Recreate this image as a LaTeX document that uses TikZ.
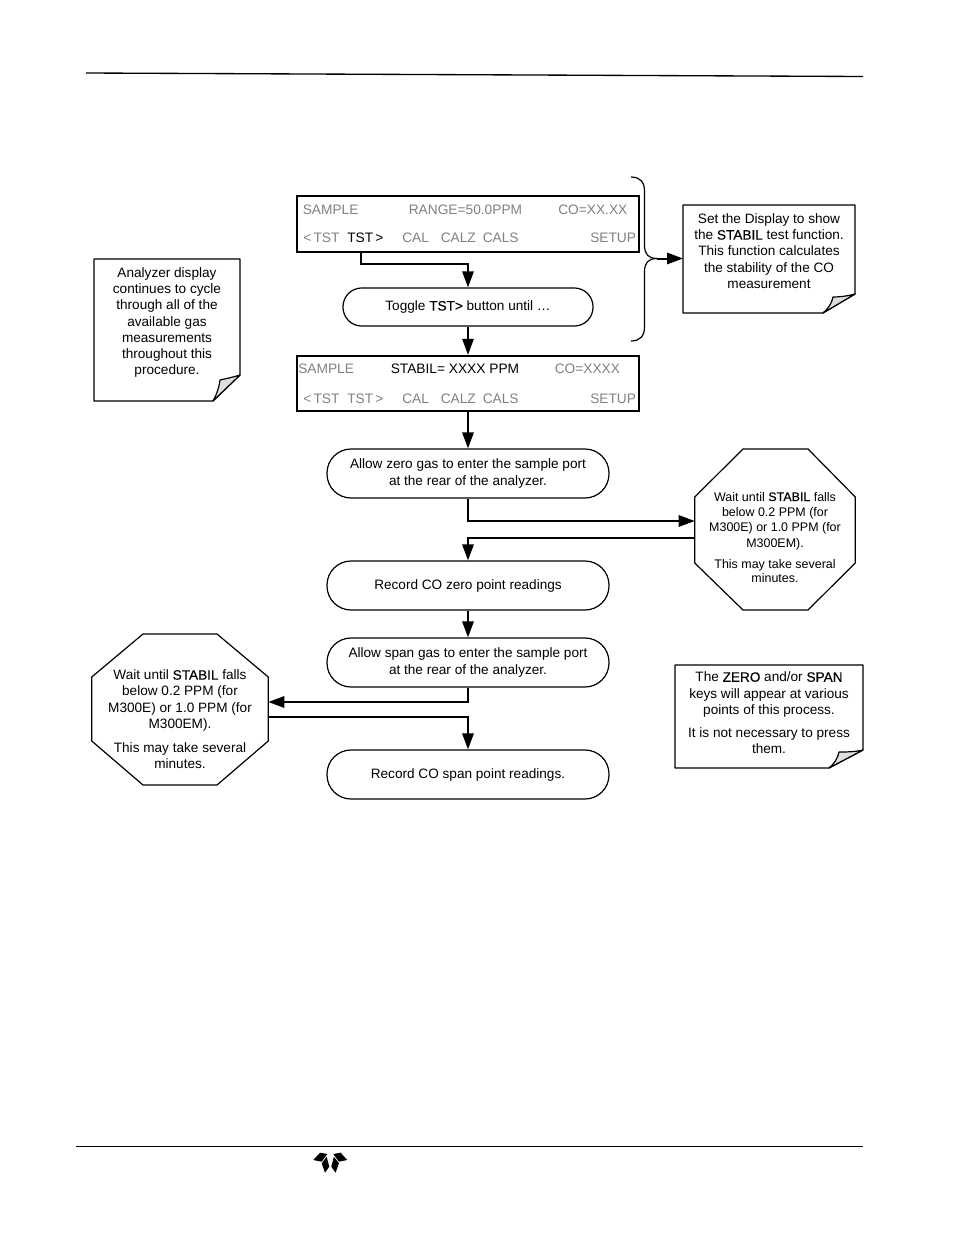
\documentclass[tikz,border=0pt]{standalone}
\usepackage{fontspec}
\setmainfont{Liberation Sans}
\newfontface\dk{Liberation Sans}[FakeBold=0.25]
\usetikzlibrary{arrows.meta,calc}
\definecolor{lcd}{gray}{0.5}
\definecolor{fold}{gray}{0.87}
\newcommand{\txt}{\fontsize{10.2pt}{12.2pt}\selectfont}
\newcommand{\hi}[1]{{\dk #1}}
\tikzset{
 x=0.75pt,y=-0.75pt,
 conn/.style={line width=1.5pt,-{Triangle[length=12pt,width=8.5pt]}},
 lcdbox/.style={draw,line width=1.5pt,minimum width=256.5pt,minimum height=41.5pt,inner sep=0pt},
 lcdt/.style={anchor=base west,inner sep=0pt,text=lcd,font=\fontsize{10.3pt}{12pt}\selectfont},
 pill/.style={draw,line width=0.9pt,rounded corners=18pt,minimum height=36.75pt,minimum width=211.5pt,inner sep=0pt,align=center,font=\txt},
 notet/.style={inner sep=0pt,align=center,font=\txt},
 notebox/.style={draw,line width=0.9pt,fill=white,line join=round},
 foldst/.style={draw,line width=0.9pt,fill=fold,line join=round},
 octt/.style={inner sep=0pt,align=center,font=\txt},
 petal/.style={fill=black,draw=none}
}
\begin{document}
\begin{tikzpicture}
\useasboundingbox (0,0) rectangle (954,1235);
% header and footer rules
\coordinate (hl) at (86,73); \coordinate (hr) at (863,76.5);
\draw[line width=1pt] (hl) -- (hr);
\coordinate (fl) at (76,1146.5); \coordinate (fr) at (863,1146.5);
\draw[line width=0.7pt] (fl) -- (fr);
% logo
\foreach \s in {1,-1}{
 \fill[petal,shift={(330.3,0)},xscale=\s] (-17,1160) -- (-10.3,1152.7) -- (-3,1154) -- (-8.6,1161.7) -- cycle;
 \fill[petal,shift={(330.3,0)},xscale=\s] (-3.6,1156.7) -- (-1,1166.7) -- (-5.3,1172.7) -- (-8.6,1163.3) -- cycle;
}
% displays
\node[lcdbox] (d1) at (468,224) {};
\node[lcdbox] (d2) at (468,383.5) {};
\node[lcdt] (a1) at (302.5,214) {SAMPLE};
\node[lcdt] (a2) at (408.5,214) {RANGE=50.0PPM};
\node[lcdt] (a3) at (558,214) {CO=XX.XX};
\node[lcdt] (a4) at (303,242) {<\,TST};
\node[lcdt,text=black] (a5) at (347,242) {TST\,>};
\node[lcdt] (a6) at (402,242) {CAL};
\node[lcdt] (a7) at (440.5,242) {CALZ};
\node[lcdt] (a8) at (482.5,242) {CALS};
\node[lcdt] (a9) at (590,242) {SETUP};
\node[lcdt] (b1) at (298,373) {SAMPLE};
\node[lcdt,text=black] (b2) at (390.5,373) {STABIL= XXXX PPM};
\node[lcdt] (b3) at (554.5,373) {CO=XXXX};
\node[lcdt] (b4) at (303,403) {<\,TST};
\node[lcdt] (b5) at (347,403) {TST\,>};
\node[lcdt] (b6) at (402,403) {CAL};
\node[lcdt] (b7) at (440.5,403) {CALZ};
\node[lcdt] (b8) at (482.5,403) {CALS};
\node[lcdt] (b9) at (590,403) {SETUP};
% pills
\node[pill,minimum width=187.5pt,minimum height=28.5pt,rounded corners=14pt] (t) at (468,307) {\raisebox{-0.6pt}{Toggle \hi{TST>} button until …}};
\node[pill] (z) at (468,473.5) {Allow zero gas to enter the sample port\\at the rear of the analyzer.};
\node[pill] (rz) at (468,585.5) {Record CO zero point readings};
\node[pill] (s) at (468,662.5) {Allow span gas to enter the sample port\\at the rear of the analyzer.};
\node[pill] (rs) at (468,774.5) {Record CO span point readings.};
% note left
\coordinate (n1a) at (94,259); \coordinate (n1b) at (240,259); \coordinate (n1c) at (240,375); \coordinate (n1d) at (213,401); \coordinate (n1e) at (94,401);
\draw[notebox] (n1a) -- (n1b) -- (n1c) -- (n1d) -- (n1e) -- cycle;
\draw[foldst] (n1c) .. controls (230,378) and (224,379) .. (220,380) .. controls (219,388) and (216,396) .. (n1d) -- cycle;
\node[notet] (n1) at (167,322.5) {Analyzer display\\continues to cycle\\through all of the\\available gas\\measurements\\throughout this\\procedure.};
% note right
\coordinate (n2a) at (683,205); \coordinate (n2b) at (855,205); \coordinate (n2c) at (855,294); \coordinate (n2d) at (823,313); \coordinate (n2e) at (683,313);
\draw[notebox] (n2a) -- (n2b) -- (n2c) -- (n2d) -- (n2e) -- cycle;
\draw[foldst] (n2c) .. controls (848,296) and (840,297) .. (833,297) .. controls (832,303) and (828,309) .. (n2d) -- cycle;
\node[notet] (n2) at (769,251) {Set the Display to show\\the \hi{STABIL} test function.\\This function calculates\\the stability of the CO\\measurement};
% note lower right
\coordinate (n3a) at (675,665); \coordinate (n3b) at (863,665); \coordinate (n3c) at (863,750); \coordinate (n3d) at (829,768); \coordinate (n3e) at (675,768);
\draw[notebox] (n3a) -- (n3b) -- (n3c) -- (n3d) -- (n3e) -- cycle;
\draw[foldst] (n3c) .. controls (855,752) and (845,752) .. (839,752) .. controls (838,758) and (834,764) .. (n3d) -- cycle;
\node[notet] (n3) at (769,694.5) {The \hi{ZERO} and/or \hi{SPAN}\\keys will appear at various\\points of this process.};
\node[notet] (n3x) at (769,740.5) {It is not necessary to press\\them.};
% octagons
\node[inner sep=0pt,minimum width=120pt,minimum height=121.5pt] (o1) at (775,529) {};
\draw[line width=0.9pt] (743,449) -- (808,449) -- (o1.east |- 0,497) -- (o1.east |- 0,563) -- (808,610) -- (743,610) -- (o1.west |- 0,563) -- (o1.west |- 0,497) -- cycle;
\node[octt,font=\fontsize{9.35pt}{11.6pt}\selectfont] (o1t) at (775,521) {Wait until \hi{STABIL} falls\\below 0.2 PPM (for\\M300E) or 1.0 PPM (for\\M300EM).};
\node[octt,font=\fontsize{9.35pt}{10.5pt}\selectfont] (o1u) at (775,571) {This may take several\\minutes.};
\node[inner sep=0pt,minimum width=132pt,minimum height=113.25pt] (o2) at (180,709.5) {};
\draw[line width=0.9pt] (143,634) -- (217,634) -- (o2.east |- 0,677) -- (o2.east |- 0,741) -- (217,785) -- (143,785) -- (o2.west |- 0,741) -- (o2.west |- 0,677) -- cycle;
\node[octt] (o2t) at (180,700.5) {Wait until \hi{STABIL} falls\\below 0.2 PPM (for\\M300E) or 1.0 PPM (for\\M300EM).};
\node[octt] (o2u) at (180,755.5) {This may take several\\minutes.};
% brace
\coordinate (bt) at (631,177); \coordinate (bb) at (631,341); \coordinate (bm) at (657,258.5);
\draw[line width=0.9pt] (bt) .. controls (640,177) and (644.5,182) .. (644.5,191) -- (644.5,245) .. controls (644.5,254) and (648,258.5) .. (bm);
\draw[line width=0.9pt] (bb) .. controls (640,341) and (644.5,336) .. (644.5,327) -- (644.5,272) .. controls (644.5,263) and (648,258.5) .. (bm);
% connectors
\coordinate (c1) at (361,264);
\draw[conn] (d1.south -| c1) -- (c1) -| (t.north);
\draw[conn] (bm) -- (bm -| n2e);
\draw[conn] (t) -- (d2);
\draw[conn] (d2) -- (z);
\coordinate (c2) at (468,521);
\draw[conn] (z.south) -- (c2) -- (c2 -| o1.west);
\coordinate (c3) at (468,538);
\draw[conn] (c3 -| o1.west) -- (c3) -- (rz.north);
\draw[conn] (rz) -- (s);
\coordinate (c4) at (468,702);
\draw[conn] (s.south) -- (c4) -- (c4 -| o2.east);
\coordinate (c5) at (468,717);
\draw[conn] (c5 -| o2.east) -- (c5) -- (rs.north);
\end{tikzpicture}
\end{document}
